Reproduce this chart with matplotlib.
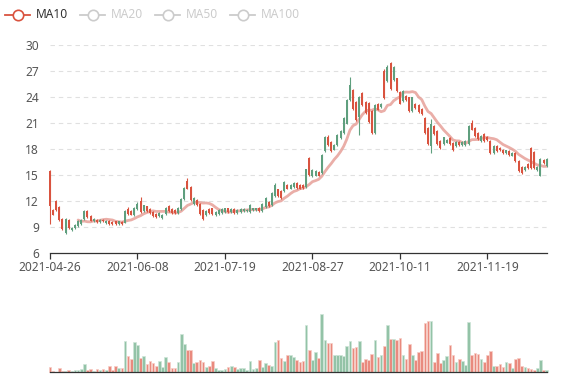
import numpy as np
import pandas as pd
import matplotlib
matplotlib.use("Agg")
import matplotlib.pyplot as plt
plt.rcParams['font.family'] = ['Noto Sans', 'DejaVu Sans']

# ---- data ----
open_ = [15.4, 10.9, 12.0, 11.3, 9.9, 8.3, 9.8, 8.6, 8.8, 9.1,
         9.3, 9.9, 10.8, 10.2, 9.6, 9.8, 9.5, 9.8, 9.4, 9.7,
         9.5, 9.6, 9.3, 9.5, 9.45, 11.0, 10.8, 10.3, 11.0, 12.0,
         10.8, 11.35, 11.0, 10.7, 10.5, 10.2, 10.05, 10.5, 11.35, 11.0,
         10.9, 10.6, 11.0, 12.2, 14.3, 13.6, 11.6, 12.1, 11.6, 10.9,
         10.3, 11.0, 11.1, 10.3, 10.5, 10.6, 10.7, 11.1, 10.7, 11.0,
         10.6, 10.7, 10.8, 10.8, 10.7, 10.9, 10.9, 11.2, 10.8, 11.3,
         11.9, 11.5, 12.5, 13.3, 13.1, 13.1, 13.8, 13.4, 13.6, 14.0,
         13.8, 13.8, 13.6, 16.9, 14.8, 14.9, 15.3, 15.2, 17.7, 19.4,
         18.8, 17.9, 18.4, 19.2, 19.8, 20.9, 23.6, 24.75, 23.4, 21.7,
         24.4, 23.4, 23.3, 22.3, 19.8, 23.2, 22.8, 27.0, 25.8, 27.9,
         25.9, 26.1, 24.5, 23.5, 24.1, 23.9, 22.3, 23.2, 23.0, 22.6,
         21.5, 20.4, 18.3, 20.6, 20.0, 18.9, 18.5, 18.7, 19.2, 18.7,
         18.3, 18.8, 18.4, 18.4, 18.5, 21.0, 20.4, 19.8, 18.9, 19.7,
         19.4, 18.9, 17.5, 18.3, 18.1, 17.9, 17.5, 17.7, 17.2, 17.5,
         16.6, 15.9, 15.5, 16.2, 18.1, 17.6, 15.5, 14.9, 16.7, 16.0]
close = [11.4, 10.4, 10.9, 9.8, 8.7, 9.9, 8.8, 8.9, 9.2, 9.7,
         9.8, 10.8, 10.1, 9.7, 9.9, 9.5, 9.8, 9.6, 9.7, 9.3,
         9.3, 9.3, 9.6, 9.3, 10.8, 10.5, 10.4, 11.2, 11.6, 10.7,
         11.45, 10.8, 10.6, 10.2, 10.1, 10.6, 10.4, 11.2, 10.8, 10.6,
         10.6, 11.2, 12.2, 13.5, 13.4, 12.1, 12.3, 11.5, 10.5, 9.9,
         10.8, 10.6, 10.5, 10.7, 10.9, 11.0, 11.1, 10.7, 11.0, 10.6,
         10.9, 11.0, 11.0, 10.9, 11.5, 11.1, 11.1, 10.8, 11.6, 12.3,
         11.4, 12.9, 13.8, 12.5, 12.3, 14.2, 13.4, 13.8, 14.0, 13.5,
         13.4, 13.5, 15.6, 15.0, 15.5, 15.4, 14.9, 17.3, 19.4, 18.4,
         17.7, 18.4, 19.6, 20.0, 21.5, 23.6, 25.3, 22.6, 21.3, 24.0,
         23.0, 22.1, 21.1, 19.8, 23.0, 22.5, 23.2, 23.8, 27.4, 24.9,
         27.4, 24.6, 23.2, 24.7, 23.6, 22.3, 23.9, 22.7, 22.2, 22.0,
         19.8, 18.5, 20.8, 19.7, 18.5, 18.1, 19.3, 19.0, 18.5, 17.8,
         18.8, 18.4, 18.8, 18.9, 20.6, 20.2, 19.5, 19.1, 19.5, 18.9,
         19.0, 17.5, 18.3, 17.7, 17.8, 17.5, 17.8, 17.3, 17.5, 16.6,
         15.4, 15.2, 15.9, 15.8, 15.8, 15.8, 15.9, 16.8, 16.3, 16.8]
low = [9.3, 10.3, 10.8, 9.7, 8.6, 8.1, 8.7, 8.5, 8.7, 9.0,
       9.2, 9.8, 10.0, 9.6, 9.5, 9.4, 9.4, 9.5, 9.3, 9.2,
       9.2, 9.2, 9.2, 9.2, 9.4, 10.4, 10.3, 10.2, 10.9, 10.6,
       10.7, 10.7, 10.5, 10.1, 10.0, 10.1, 9.9, 10.4, 10.7, 10.5,
       10.5, 10.5, 10.9, 12.1, 13.3, 12.0, 11.5, 11.4, 10.4, 9.8,
       10.2, 10.5, 10.4, 10.2, 10.4, 10.5, 10.6, 10.6, 10.6, 10.5,
       10.5, 10.6, 10.7, 10.7, 10.6, 10.8, 10.8, 10.7, 10.7, 11.2,
       11.3, 11.4, 12.4, 12.4, 12.2, 13.0, 13.3, 13.3, 13.5, 13.4,
       13.3, 13.4, 13.5, 14.9, 14.7, 14.8, 14.8, 15.1, 17.6, 18.3,
       17.6, 17.8, 18.3, 19.1, 19.7, 20.8, 23.5, 22.5, 21.2, 19.6,
       22.9, 22.0, 21.0, 19.7, 19.7, 22.4, 22.7, 23.7, 25.7, 24.8,
       25.8, 24.5, 23.1, 23.4, 23.5, 22.2, 22.2, 22.6, 22.1, 21.9,
       19.7, 18.4, 17.5, 19.6, 18.4, 18.0, 18.4, 18.6, 18.4, 17.7,
       18.2, 18.3, 18.3, 18.3, 18.4, 20.1, 19.4, 19.0, 18.8, 18.8,
       18.9, 17.4, 17.4, 17.6, 17.7, 17.4, 17.4, 17.2, 17.1, 16.5,
       15.3, 15.1, 15.4, 15.7, 15.7, 15.7, 15.4, 14.8, 16.2, 15.9]
high = [15.5, 11.0, 12.1, 11.4, 10.0, 10.0, 9.9, 9.0, 9.3, 9.8,
        9.9, 10.9, 10.9, 10.3, 10.0, 9.9, 9.9, 9.9, 9.8, 9.8,
        9.6, 9.7, 9.7, 9.6, 10.9, 11.3, 10.9, 11.3, 11.8, 12.4,
        11.5, 11.4, 11.1, 10.8, 10.6, 10.7, 10.5, 11.3, 11.5, 11.1,
        11.0, 11.3, 12.3, 13.6, 14.6, 13.7, 12.4, 12.2, 11.7, 11.0,
        10.9, 11.1, 11.2, 10.8, 11.0, 11.1, 11.2, 11.2, 11.1, 11.1,
        11.0, 11.1, 11.1, 11.0, 11.6, 11.2, 11.2, 11.3, 11.7, 12.4,
        12.0, 13.0, 14.0, 13.4, 13.2, 14.3, 13.9, 13.9, 14.1, 14.1,
        13.9, 13.9, 15.7, 17.0, 15.6, 15.5, 15.4, 17.4, 19.5, 19.6,
        18.9, 18.5, 19.7, 20.1, 21.6, 23.7, 26.3, 24.9, 23.5, 24.1,
        24.5, 23.5, 23.4, 22.4, 23.1, 23.3, 23.3, 27.2, 27.6, 28.0,
        27.5, 26.2, 24.6, 24.8, 24.2, 24.0, 24.0, 23.3, 23.1, 22.7,
        21.6, 20.5, 21.4, 20.7, 20.1, 19.0, 19.4, 19.1, 19.3, 18.8,
        18.9, 18.9, 18.9, 19.0, 20.7, 21.3, 20.5, 19.9, 19.6, 19.8,
        19.5, 19.0, 18.4, 18.4, 18.2, 18.0, 17.9, 17.8, 17.6, 17.6,
        16.7, 16.0, 16.0, 16.3, 18.2, 17.7, 16.0, 16.9, 16.8, 16.9]
volume = [5.0, 1.3, 0.7, 4.0, 1.0, 1.3, 2.3, 1.3, 2.3, 2.3,
          3.3, 8.3, 2.3, 3.0, 1.0, 3.3, 2.3, 3.0, 2.3, 6.7,
          2.3, 6.0, 4.3, 4.3, 31.0, 16.3, 13.3, 30.7, 27.0, 14.0,
          16.0, 8.3, 11.3, 9.0, 6.3, 11.3, 5.7, 15.7, 10.3, 4.3,
          4.0, 10.3, 38.7, 28.0, 22.0, 22.3, 9.7, 10.0, 12.0, 10.7,
          5.0, 6.3, 11.3, 4.3, 2.7, 2.7, 3.3, 5.0, 6.0, 5.0,
          3.3, 4.3, 4.3, 2.3, 11.7, 3.7, 4.7, 12.3, 5.0, 9.0,
          7.0, 6.3, 30.7, 32.7, 14.0, 11.7, 17.0, 17.7, 15.7, 12.3,
          10.0, 11.3, 47.3, 22.3, 12.3, 20.7, 14.0, 58.0, 32.3, 29.7,
          29.7, 17.3, 17.0, 17.3, 16.3, 26.7, 31.3, 24.7, 25.0, 31.3,
          10.7, 13.3, 12.3, 18.0, 32.3, 15.0, 17.0, 26.3, 47.3, 33.0,
          33.0, 32.3, 34.7, 17.3, 13.3, 28.3, 17.3, 12.3, 20.3, 21.3,
          49.7, 51.3, 51.3, 10.0, 19.7, 9.0, 12.7, 16.0, 27.3, 17.0,
          10.3, 13.0, 11.3, 7.7, 50.7, 17.3, 19.3, 18.3, 13.3, 10.0,
          17.3, 21.7, 6.3, 6.7, 8.3, 5.3, 10.0, 9.3, 4.3, 13.3,
          14.3, 6.3, 5.3, 4.3, 3.0, 2.3, 4.0, 12.0, 2.3, 2.0]
tick_labels = ['2021-04-26', '2021-06-08', '2021-07-19',
               '2021-08-27', '2021-10-11', '2021-11-19']
tick_every = 28
legend_names = ['MA10', 'MA20', 'MA50', 'MA100']

# ---- colours ----
up_c, down_c = '#5f9f7e', '#d9533f'
up_v, down_v = '#93c3a7', '#e98a7e'
up_v_edge, down_v_edge = '#cfe5d8', '#f6cdc6'
ma_c = '#e59a92'
axis_c = '#333333'
label_c = '#555555'
grid_c = '#e0e0e0'

n = len(close)
x = np.arange(n)
o = np.array(open_)
c = np.array(close)
rising = c >= o
ma10 = pd.Series(close).rolling(10).mean()

W, H = 577, 380
fig = plt.figure(figsize=(W / 100, H / 100), dpi=100)
left, right = 50, 546.7
ax = fig.add_axes([left / W, (H - 252.7) / H, (right - left) / W, (252.7 - 44.6) / H])
axv = fig.add_axes([left / W, (H - 372.3) / H, (right - left) / W, (372.3 - 300) / H])

# ---- candles ----
cols = np.where(rising, up_c, down_c)
ax.vlines(x, low, high, colors=cols, lw=0.8, clip_on=False, zorder=3)
body_lo = np.minimum(o, c)
body_h = np.maximum(np.abs(c - o), 0.12)
ax.bar(x, body_h, bottom=body_lo, width=0.64, color=cols, lw=0,
       clip_on=False, zorder=4)
ax.plot(x, ma10, color=ma_c, lw=2.0, alpha=0.8, zorder=2,
        solid_capstyle='round', solid_joinstyle='round')

ax.set_xlim(0, n - 1)
ax.set_ylim(6, 30)
ax.set_yticks(range(6, 31, 3))
ax.set_xticks(x[::tick_every])
ax.set_xticklabels(tick_labels)
for sp in ['top', 'right', 'left']:
    ax.spines[sp].set_visible(False)
ax.spines['bottom'].set_color(axis_c)
ax.spines['bottom'].set_linewidth(0.9)
ax.tick_params(axis='x', length=4, width=0.9, color=axis_c, labelsize=8.6,
               labelcolor=label_c, pad=2)
ax.tick_params(axis='y', length=0, labelsize=8.6, labelcolor=label_c, pad=8)
for v in range(9, 31, 3):
    ax.axhline(v, color=grid_c, lw=0.8, dashes=(4, 3.5), zorder=0)

# ---- volume ----
vcols = np.where(rising, up_v, down_v)
vedge = np.where(rising, up_v_edge, down_v_edge)
axv.bar(x, volume, width=0.85, color=vcols, edgecolor=vedge, lw=0.5,
        clip_on=False)
axv.set_xlim(0, n - 1)
axv.set_ylim(0, 72.3)
axv.set_xticks([])
axv.set_yticks([])
for sp in ['top', 'right', 'left']:
    axv.spines[sp].set_visible(False)
axv.spines['bottom'].set_color(axis_c)
axv.spines['bottom'].set_linewidth(0.9)

# ---- legend (MA10 active, others greyed out) ----
lg = fig.add_axes([0, 0, 1, 1], facecolor='none')
lg.set_xlim(0, W)
lg.set_ylim(H, 0)
lg.axis('off')
starts = [5, 80, 155, 230]
for k, (name, sx) in enumerate(zip(legend_names, starts)):
    col = down_c if k == 0 else '#cccccc'
    tcol = '#333333' if k == 0 else '#cccccc'
    lg.plot([sx, sx + 25], [15, 15], color=col, lw=1.3)
    lg.plot(sx + 12.5, 15, 'o', ms=7.5, mfc='white', mec=col, mew=1.2)
    lg.text(sx + 31, 15, name, color=tcol, fontsize=8.6, va='center', ha='left')

fig.savefig('out.png', dpi=100)
